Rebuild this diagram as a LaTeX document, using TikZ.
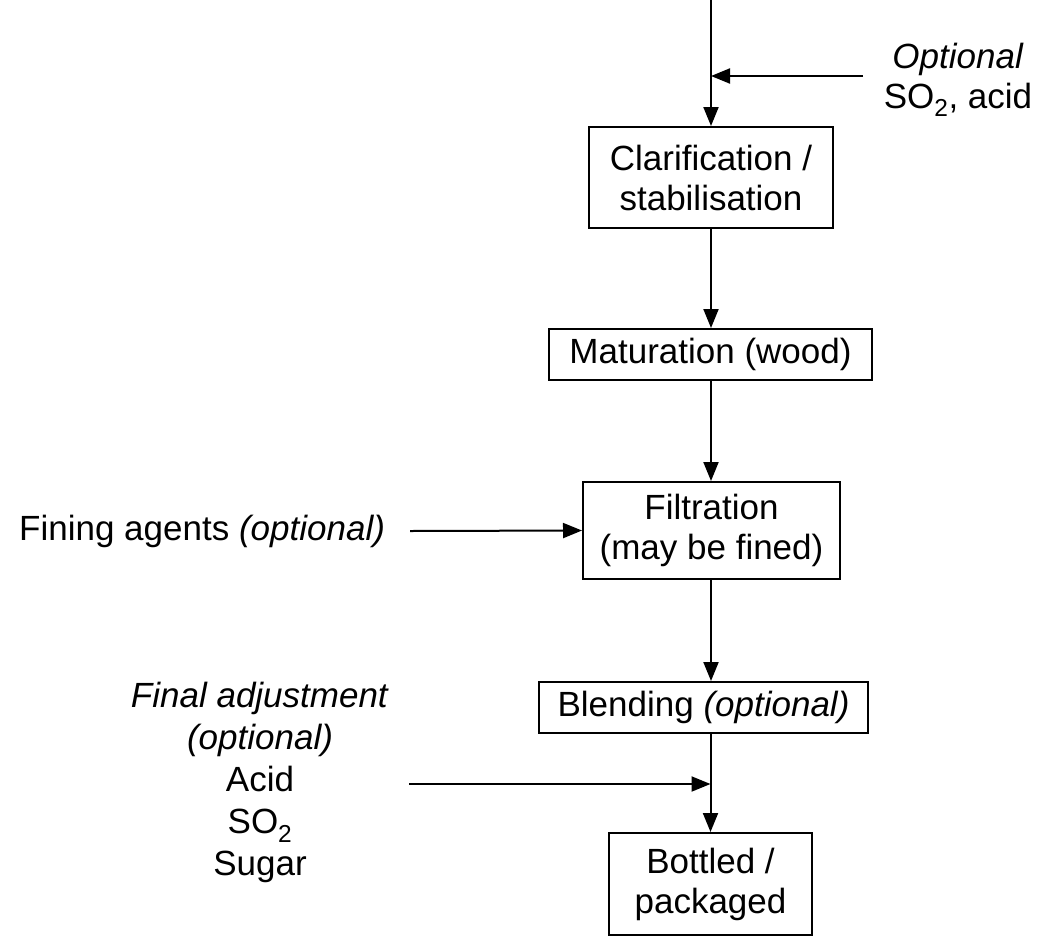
\documentclass[tikz,border=0pt]{standalone}
\usepackage{fontspec}
\setmainfont{Liberation Sans}
\usetikzlibrary{arrows.meta}

\tikzset{
    stage/.style={draw, line width=2pt, align=center, inner sep=0pt},
    flow/.style={line width=2pt, -{Triangle[length=19pt, width=15pt]}},
    note/.style={align=center, inner sep=0pt}
}

\begin{document}
\begin{tikzpicture}[x=1pt, y=-1pt, font=\fontsize{35}{40}\selectfont]
\useasboundingbox (0,0) rectangle (1051,937);

% process stages
    \node[stage, minimum width=244pt, minimum height=101pt] (clar) at (711,177.5)
        {Clarification /\\stabilisation};
    \node[stage, minimum width=323pt, minimum height=51pt] (mat) at (710.5,354.5)
        {Maturation (wood)};
    \node[stage, minimum width=257pt, minimum height=97pt] (filt) at (711.5,530.5)
        {Filtration\\(may be fined)};
    \node[stage, minimum width=329pt, minimum height=51pt] (blend) at (703.5,707.5)
        {Blending \textit{(optional)}};
    \node[stage, minimum width=203pt, minimum height=102pt] (bott) at (710.5,884)
        {Bottled /\\packaged};

% additions
    \node[note] (acid) at (958,80) {\textit{Optional}\\SO\textsubscript{2}, acid};
    \node[note, anchor=west] (fining) at (19,531) {Fining agents \textit{(optional)}};
    \node[note, font=\fontsize{35}{42}\selectfont] (adjust) at (260,782.5)
        {\textit{Final adjustment}\\\textit{(optional)}\\Acid\\SO\textsubscript{2}\\Sugar};

% free ends
    \coordinate (intake) at (711,0);
    \coordinate (acidin) at (863,76);
    \coordinate (finingin) at (410,531);
    \coordinate (adjustin) at (409,784);

% main line
    \draw[flow] (intake) -- (clar.north);
    \draw[flow] (clar.south) -- (clar.south |- mat.north);
    \draw[flow] (clar.south |- mat.south) -- (clar.south |- filt.north);
    \draw[flow] (clar.south |- filt.south) -- (clar.south |- blend.north);
    \draw[flow] (bott.north |- blend.south) -- (bott.north);

% side inputs
    \draw[flow] (acidin) -- (acidin -| intake);
    \draw[flow] (finingin) -- (filt.west);
    \draw[flow] (adjustin) -- (adjustin -| bott.north);

\end{tikzpicture}
\end{document}
